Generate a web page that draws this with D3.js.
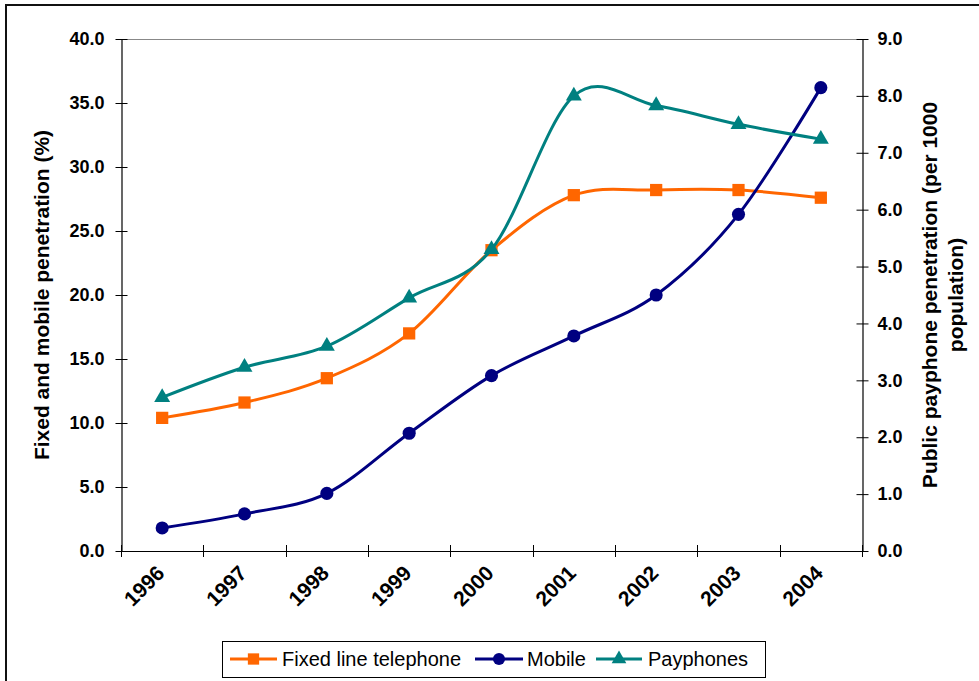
<!DOCTYPE html>
<html>
<head>
<meta charset="utf-8">
<script src="https://cdn.jsdelivr.net/npm/d3@7"></script>
<style>
  html, body { margin: 0; padding: 0; background: #fff; }
  svg { display: block; font-family: "Liberation Sans", Arial, sans-serif; }
</style>
</head>
<body>
<svg id="chart" width="979" height="681"></svg>
<script>
// Telephone penetration by year
const years = ["1996", "1997", "1998", "1999", "2000", "2001", "2002", "2003", "2004"];
const fixedLine = [10.4, 11.6, 13.5, 17.0, 23.5, 27.8, 28.2, 28.2, 27.6];   // %
const mobile    = [1.8, 2.9, 4.5, 9.2, 13.7, 16.8, 20.0, 26.3, 36.2];      // %
const payphones = [2.7, 3.23, 3.6, 4.45, 5.3, 8.0, 7.83, 7.5, 7.24];      // per 1000 population
const leftTicks  = [0, 5, 10, 15, 20, 25, 30, 35, 40];
const rightTicks = [0, 1, 2, 3, 4, 5, 6, 7, 8, 9];
const seriesNames = ["Fixed line telephone", "Mobile", "Payphones"];

const W = 979, H = 681;
const plot = { left: 121, right: 862, top: 39, bottom: 551 };
const colors = { fixed: "#FF6600", mobile: "#000080", pay: "#008080" };

const svg = d3.select("#chart");

// outer frame
svg.append("rect")
  .attr("x", 6).attr("y", 5)
  .attr("width", W + 20).attr("height", H + 20)
  .attr("fill", "none").attr("stroke", "#111").attr("stroke-width", 2);

const x = d3.scaleBand().domain(years).range([plot.left, plot.right]);
const cx = d => x(d) + x.bandwidth() / 2;
const yL = d3.scaleLinear().domain([0, 40]).range([plot.bottom, plot.top]);
const yR = d3.scaleLinear().domain([0, 9]).range([plot.bottom, plot.top]);

// plot area top edge
svg.append("line")
  .attr("x1", plot.left).attr("x2", plot.right)
  .attr("y1", plot.top + 0.5).attr("y2", plot.top + 0.5)
  .attr("stroke", "#888").attr("stroke-width", 1);

// left axis
const gL = svg.append("g").attr("transform", `translate(${plot.left + 0.5},0)`)
  .call(d3.axisLeft(yL).tickValues(leftTicks).tickFormat(d3.format(".1f"))
    .tickSize(6).tickPadding(11).tickSizeOuter(0));
gL.selectAll(".tick line").attr("x1", 6);
// right axis
const gR = svg.append("g").attr("transform", `translate(${plot.right + 0.5},0)`)
  .call(d3.axisRight(yR).tickValues(rightTicks).tickFormat(d3.format(".1f"))
    .tickSize(6).tickPadding(9).tickSizeOuter(0));
gR.selectAll(".tick line").attr("x1", -6);

[gL, gR].forEach(g => {
  g.select(".domain").attr("stroke", "#000").attr("stroke-width", 1.2);
  g.selectAll(".tick line").attr("stroke", "#000");
  g.selectAll(".tick text").attr("font-size", 18).attr("font-weight", "bold")
    .attr("fill", "#000").attr("font-family", "Liberation Sans, Arial, sans-serif");
});

// bottom axis: baseline, ticks at category boundaries, rotated year labels
const gB = svg.append("g");
gB.append("line")
  .attr("x1", plot.left).attr("x2", plot.right)
  .attr("y1", plot.bottom + 0.5).attr("y2", plot.bottom + 0.5)
  .attr("stroke", "#000").attr("stroke-width", 1.2);
const bounds = years.map(d => x(d)).concat([x.range()[1]]);
gB.selectAll("line.tk").data(bounds).join("line").attr("class", "tk")
  .attr("x1", d => Math.round(d) + 0.5).attr("x2", d => Math.round(d) + 0.5)
  .attr("y1", plot.bottom - 6).attr("y2", plot.bottom + 6)
  .attr("stroke", "#000");
gB.selectAll("text").data(years).join("text")
  .attr("transform", d => `translate(${cx(d) - 7},${plot.bottom + 13}) rotate(-45)`)
  .attr("text-anchor", "end")
  .attr("dy", "0.71em")
  .attr("font-size", 21).attr("font-weight", "bold")
  .text(d => d);

// axis titles
svg.append("text")
  .attr("transform", `translate(49,${(plot.top + plot.bottom) / 2}) rotate(-90)`)
  .attr("text-anchor", "middle")
  .attr("font-size", 21).attr("font-weight", "bold")
  .text("Fixed and mobile penetration (%)");
const rt = svg.append("text")
  .attr("transform", `translate(937,${(plot.top + plot.bottom) / 2}) rotate(-90)`)
  .attr("text-anchor", "middle")
  .attr("font-size", 21).attr("font-weight", "bold");
rt.append("tspan").attr("x", 0).attr("dy", 0).text("Public payphone penetration (per 1000");
rt.append("tspan").attr("x", 0).attr("dy", 26).text("population)");

// series
const series = [
  { name: seriesNames[0], values: fixedLine, y: yL, color: colors.fixed, symbol: d3.symbolSquare, size: 150 },
  { name: seriesNames[1], values: mobile,    y: yL, color: colors.mobile, symbol: d3.symbolCircle, size: 135 },
  { name: seriesNames[2], values: payphones, y: yR, color: colors.pay, symbol: d3.symbolTriangle, size: 110 }
];

const line = s => d3.line()
  .x((v, i) => cx(years[i]))
  .y(v => s.y(v))
  .curve(d3.curveCatmullRom.alpha(0));

const gS = svg.append("g");
series.forEach(s => {
  gS.append("path").datum(s.values)
    .attr("d", line(s))
    .attr("fill", "none").attr("stroke", s.color).attr("stroke-width", 3)
    .attr("stroke-linejoin", "round");
  gS.selectAll(null).data(s.values).join("path")
    .attr("transform", (v, i) => `translate(${cx(years[i])},${s.y(v)})`)
    .attr("d", d3.symbol(s.symbol, s.size))
    .attr("fill", s.color);
});

// legend
const lg = svg.append("g");
lg.append("rect").attr("x", 222.5).attr("y", 641.5).attr("width", 543).attr("height", 36)
  .attr("fill", "#fff").attr("stroke", "#000").attr("stroke-width", 1);
const legendPos = [
  { x0: 230, x1: 277, tx: 282 },
  { x0: 475, x1: 523, tx: 527 },
  { x0: 596, x1: 642, tx: 648 }
];
series.forEach((s, i) => {
  const p = legendPos[i], ly = 659;
  lg.append("line").attr("x1", p.x0).attr("x2", p.x1).attr("y1", ly).attr("y2", ly)
    .attr("stroke", s.color).attr("stroke-width", 3);
  lg.append("path").attr("transform", `translate(${(p.x0 + p.x1) / 2},${ly})`)
    .attr("d", d3.symbol(s.symbol, s.size * 0.85)).attr("fill", s.color);
  lg.append("text").attr("x", p.tx).attr("y", ly).attr("dy", "0.36em")
    .attr("font-size", 20).text(s.name);
});
</script>
</body>
</html>
